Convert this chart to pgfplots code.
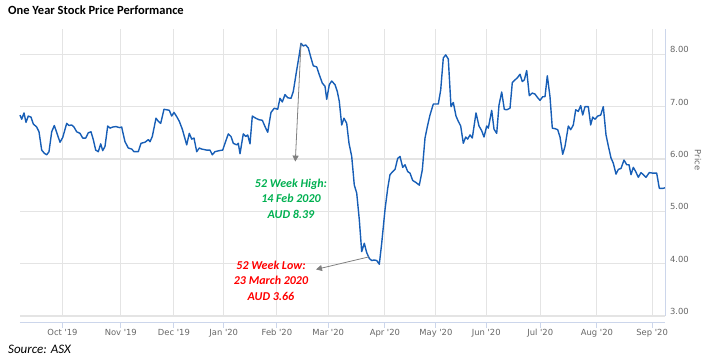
\documentclass[border=0pt]{standalone}
\usepackage{pgfplots}
\pgfplotsset{compat=1.18}
\usepackage{fontspec}
\usetikzlibrary{arrows.meta}
\setmainfont{Carlito}
\newfontfamily\tickfont{DejaVu Sans}[Ligatures=TeXOff]
\definecolor{linec}{RGB}{23,94,182}
\definecolor{gridc}{RGB}{228,228,228}
\definecolor{axisc}{RGB}{204,214,235}
\definecolor{tickc}{RGB}{102,102,102}
\definecolor{hig}{RGB}{0,176,80}
\definecolor{low}{RGB}{255,0,0}
\definecolor{arr}{RGB}{128,128,128}
\pgfplotstableread{
x y
20 6.84
21.7 6.76
24 6.88
26 6.70
28.3 6.82
31 6.80
33.3 6.67
36.7 6.61
39 6.52
41.7 6.17
44.3 6.11
46.7 6.08
49 6.14
51.7 6.52
54.3 6.64
57 6.49
60 6.32
62.7 6.41
66.7 6.68
69 6.64
71.7 6.65
74 6.61
76.7 6.52
80 6.49
82.7 6.40
85.7 6.40
88.3 6.50
91 6.52
93.3 6.37
95.7 6.17
98.3 6.14
100.7 6.29
102.7 6.16
105 6.24
107.7 6.63
110 6.59
112.7 6.61
116 6.62
119.3 6.60
121.7 6.61
122.7 6.52
125 6.33
128.3 6.21
131.7 6.19
134 6.14
138.3 6.14
141 6.30
145 6.32
148.3 6.37
150 6.33
152.3 6.43
156 6.78
158.3 6.72
160.7 6.68
164 6.95
166.7 6.94
169.3 6.93
171.7 6.82
174 6.89
176.7 6.81
179.3 6.72
182.3 6.57
186.7 6.27
189.3 6.49
191.7 6.38
194 6.40
196.7 6.14
199.3 6.21
201.7 6.19
206.7 6.17
210 6.17
212.3 6.08
215 6.14
219.3 6.16
222.7 6.17
225 6.30
228.3 6.48
231 6.43
233.3 6.30
236.7 6.27
238.3 6.30
240 6.10
243.3 6.48
245.7 6.43
247.7 6.46
250 6.29
252.3 6.82
255.7 6.78
259 6.75
262.3 6.74
265 6.62
267.7 6.51
271 6.89
274.3 6.97
277.7 6.95
280 7.16
282.3 7.09
285 7.23
287.7 7.17
291 7.16
293.3 7.29
296.7 7.70
299 7.96
301 8.21
303.3 8.16
305.7 8.18
308.3 8.12
311 7.93
313.3 7.78
316.7 7.76
319.3 7.61
322.3 7.45
325 7.39
326.7 7.14
329.3 7.42
331.7 7.49
335 7.42
337.3 7.29
339.3 7.10
341.7 6.65
344 6.78
346.7 6.68
349 6.30
351.7 6.05
354.3 5.50
356.7 5.35
359.3 4.84
361.7 4.23
364.3 4.39
366.7 4.21
369.3 4.10
371.7 4.06
374.3 4.07
376.7 4.06
379.3 3.99
381.7 4.39
385 5.03
387.7 5.44
390 5.70
392.7 5.76
395 5.80
397.7 6.01
400 6.05
402.7 5.84
405 5.89
407.7 5.76
410 5.73
412.7 5.59
416 5.55
419.3 5.50
422.3 5.79
425 6.40
427.7 6.65
430 6.84
433.3 7.05
435.7 7.05
438.3 7.05
440.7 7.32
443.3 7.93
445.7 7.99
448.3 7.91
451 7.00
453.3 7.08
456 6.82
458.3 6.72
460.7 6.63
463.3 6.30
465.7 6.42
467.7 6.38
470 6.46
472.3 6.40
476 6.88
479 6.63
481.7 6.54
484 6.42
486.7 6.63
488.3 6.59
491.7 6.93
494 6.57
496.7 6.49
499 7.03
501.7 7.28
504.3 6.95
506.7 6.94
510 6.97
512.3 7.46
515 7.51
517.7 7.56
520 7.62
522.3 7.48
524.3 7.51
526.7 7.69
529.3 7.21
532.3 7.26
535 7.24
537.3 7.18
540 7.12
542.7 7.19
545 7.19
547.3 7.59
550 7.19
552.3 6.59
555 6.58
557.7 6.56
560 6.42
562.7 6.09
565 6.24
568.3 6.63
570.7 6.56
573.3 6.65
575.7 6.94
578.3 6.91
580.7 7.02
582.7 6.84
585 7.00
588.3 7.00
590.7 6.65
592.7 6.80
595 6.76
597.7 6.82
600.7 6.84
603.3 7.00
606 6.46
608.3 6.25
611 6.02
613.3 5.92
616 5.71
618.3 5.80
621 5.82
624 5.98
626.7 5.89
629 5.89
631 5.70
633.3 5.84
635.7 5.76
638.3 5.65
641 5.74
643.3 5.70
646 5.65
649.3 5.74
652.7 5.73
656.7 5.73
659.3 5.44
663.3 5.44
665 5.45
}\pricetable
\begin{document}
\begin{tikzpicture}
\path[use as bounding box] (0,0) rectangle (712pt,361pt);
\begin{axis}[
  at={(20pt,45pt)}, anchor=south west,
  width=645pt, height=287pt, scale only axis,
  xmin=20, xmax=665, ymin=3, ymax=8.484,
  axis line style={draw=none},
  clip=false,
  xtick={62.5,120.8,173.9,223.7,276.9,328.2,384.9,435.9,486.2,540.2,596.9,652.1},
  xticklabels={Oct '19,Nov '19,Dec '19,Jan '20,Feb '20,Mar '20,Apr '20,May '20,Jun '20,Jul '20,Aug '20,Sep '20},
  ytick={3,4,5,6,7,8},
  yticklabel pos=right,
  major tick length=0pt,
  tick style={draw=none},
  /pgf/number format/assume math mode=true,
  yticklabel style={font=\tickfont\fontsize{8.4}{10}\selectfont, text=tickc, anchor=west, xshift=1.5pt, yshift=4.5pt,
    /pgf/number format/.cd, fixed, fixed zerofill, precision=2},
  xticklabel style={font=\tickfont\fontsize{8.4}{10}\selectfont, text=tickc, anchor=north, yshift=-10pt},
  grid=major,
  x grid style={gridc, line width=0.9pt},
  y grid style={gridc, line width=1.4pt},
]
\addplot[linec, line width=1.4pt, line join=round, no markers] table[x=x,y=y] {\pricetable};
\draw[axisc, line width=1pt] ([yshift=-6.7pt]rel axis cs:0,0) -- ([yshift=-6.7pt]rel axis cs:1,0);
\draw[axisc, line width=1pt] (rel axis cs:1,0) -- (rel axis cs:1,1);
\pgfplotsinvokeforeach{62.5,120.8,173.9,223.7,276.9,328.2,384.9,435.9,486.2,540.2,596.9,652.1}{
  \draw[axisc, line width=1pt] ([yshift=-6.7pt]axis cs:#1,3) -- ([yshift=-12.3pt]axis cs:#1,3);
}
\draw[arr, line width=0.8pt, -{Triangle[width=6pt,length=6pt]}] (axis cs:301,8.21) -- (axis cs:295.3,5.95);
\draw[arr, line width=0.8pt, -{Triangle[width=6pt,length=6pt]}] (axis cs:369,4.13) -- (axis cs:316,3.89);
\node[align=center, text=hig, font=\fontsize{12}{15.5}\selectfont\bfseries\itshape] at (axis cs:291,5.24) {52 Week High:\\14 Feb 2020\\AUD 8.39};
\node[align=center, text=low, font=\fontsize{12}{15.5}\selectfont\bfseries\itshape] at (axis cs:271,3.675) {52 Week Low:\\23 March 2020\\AUD 3.66};
\end{axis}
\node[anchor=base west, font=\fontsize{12.5}{15}\selectfont\bfseries, inner sep=0pt] at (8pt,346pt) {One Year Stock Price Performance};
\node[anchor=base west, font=\fontsize{13}{15}\selectfont\itshape, inner sep=0pt] at (8pt,7pt) {Source: ASX};
\node[rotate=-90, font=\tickfont\fontsize{8.4}{10}\selectfont, text=tickc, inner sep=0pt] at (698pt,201pt) {Price};
\end{tikzpicture}
\end{document}
